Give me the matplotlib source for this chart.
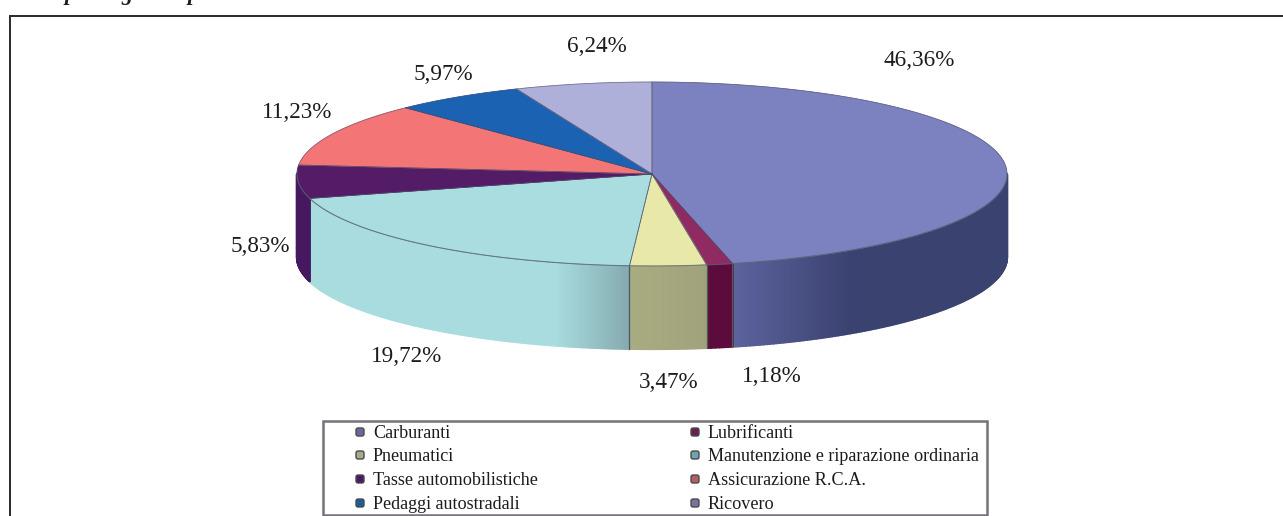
import numpy as np
import matplotlib
matplotlib.use("Agg")
import matplotlib.pyplot as plt
from matplotlib.colors import to_rgb
from matplotlib.patches import FancyBboxPatch, Rectangle

categories = ["Carburanti", "Lubrificanti", "Pneumatici",
              "Manutenzione e riparazione ordinaria", "Tasse automobilistiche",
              "Assicurazione R.C.A.", "Pedaggi autostradali", "Ricovero"]
values = [46.36, 1.18, 3.47, 19.72, 5.83, 11.23, 5.97, 6.24]
value_labels = ["46,36%", "1,18%", "3,47%", "19,72%", "5,83%", "11,23%", "5,97%", "6,24%"]
top_colors = ["#7c82c0", "#8f2a63", "#e8e9a8", "#a9dde0", "#541b66", "#f37576", "#1b62b2", "#aeb0da"]
side_left = ["#5c629c", "#5c0c3c", "#a9ab80", "#a8dcde", "#45185f", "#b05557", "#134a86", "#8385a5"]
side_right = ["#3a4270", "#5c0c3c", "#a0a27c", "#84a9af", "#45185f", "#b05557", "#134a86", "#8385a5"]
grad_span = [(735, 850), (700, 735), (630, 706), (555, 630), (297, 310), (0, 1), (0, 1), (0, 1)]
legend_marker = ["#6a6a9a", "#6d1f4c", "#a9aa88", "#6fa4ad", "#4a1a62", "#b0605f", "#1d5c94", "#77779a"]
label_xy = [(919, 61), (772, 377), (669, 382), (407, 357), (260, 247), (297, 113), (443, 74), (597, 47)]

cx, cy, rx, ry, depth = 652, 174, 355, 92, 83
SERIF = "Liberation Serif"

fig = plt.figure(figsize=(12.83, 5.16), dpi=100)
ax = fig.add_axes([0, 0, 1, 1])
ax.set_xlim(0, 1283)
ax.set_ylim(516, 0)
ax.axis("off")

# outer frame, cut by the page on the right and at the bottom
ax.plot([10, 10, 1283], [516, 16, 16], color="#2a2a2a", lw=1.4, solid_joinstyle="miter", zorder=1)

# slice boundaries, clockwise from the top
cum = np.concatenate([[0], np.cumsum(values)]) / sum(values) * 2 * np.pi
def pt(a):
    return cx + rx * np.sin(a), cy + ry * -np.cos(a)

def mix(c1, c2, t):
    c1, c2 = np.array(to_rgb(c1)), np.array(to_rgb(c2))
    return tuple(c1 + (c2 - c1) * np.clip(t, 0, 1))

# side wall
for i in range(len(values)):
    a0, a1 = cum[i], cum[i + 1]
    lo, hi = max(a0, np.pi * 0.5), min(a1, np.pi * 1.5)
    if hi <= lo:
        continue
    ang = np.linspace(lo, hi, max(3, int((hi - lo) * 100)))
    x0, x1 = grad_span[i]
    for u, v in zip(ang[:-1], ang[1:]):
        xu, yu = pt(u)
        xv, yv = pt(v)
        col = mix(side_left[i], side_right[i], ((xu + xv) / 2 - x0) / (x1 - x0))
        ax.fill([xu, xv, xv, xu], [yu, yv, yv + depth, yu + depth], color=col, lw=1.6, ec=col,
                joinstyle="round", zorder=2)
    if i in (1, 2, 3):
        xe, ye = pt(lo)
        ax.plot([xe, xe], [ye, ye + depth], color="#4f5a50", lw=0.9, zorder=3)
    if i == 3:
        xe, ye = pt(hi)
        ax.plot([xe, xe], [ye, ye + depth], color="#3c2a5a", lw=0.6, zorder=3)

# top face
for i in range(len(values)):
    ang = np.linspace(cum[i], cum[i + 1], 120)
    xs, ys = pt(ang)
    ax.fill(np.r_[cx, xs], np.r_[cy, ys], color=top_colors[i], lw=0.5, ec=top_colors[i], zorder=4)
    ax.plot(np.r_[cx, xs, cx], np.r_[cy, ys, cy], color="#4a4a66", lw=0.55, alpha=0.65, zorder=5)

# rim over the visible wall
ang = np.linspace(np.pi * 0.5, np.pi * 1.5, 300)
xs, ys = pt(ang)
ax.plot(xs, ys, color="#5a6a74", lw=0.8, alpha=0.6, zorder=5)

# value labels
for (x, y), s in zip(label_xy, value_labels):
    ax.text(x, y, s, family=SERIF, fontsize=16.7, color="#1c1c1c", ha="center", va="center", zorder=6)

# legend box
ax.add_patch(Rectangle((323, 421), 664, 94, fc="white", ec="#77717a", lw=1.8, zorder=6))
col_x = [360, 695]
row_y = [432, 455, 479, 503]
for i, name in enumerate(categories):
    mx, my = col_x[i % 2], row_y[i // 2]
    ax.add_patch(FancyBboxPatch((mx - 3, my - 3), 6, 6, boxstyle="round,pad=1,rounding_size=2",
                                fc=legend_marker[i], ec="#4a4a50", lw=1.0, zorder=7))
    ax.text(mx + 13, my + 1.5, name, family=SERIF, fontsize=13.1, color="#1c1c1c",
            ha="left", va="center", zorder=7)

# italic running head, cut by the page's top edge
for x, g in zip([70, 127, 193], ["p", "g", "p"]):
    ax.text(x, 0, g, family=SERIF, fontsize=16, style="italic", weight="bold",
            color="#1c1c1c", ha="center", va="baseline", zorder=7)

fig.savefig("out.png", dpi=100)
